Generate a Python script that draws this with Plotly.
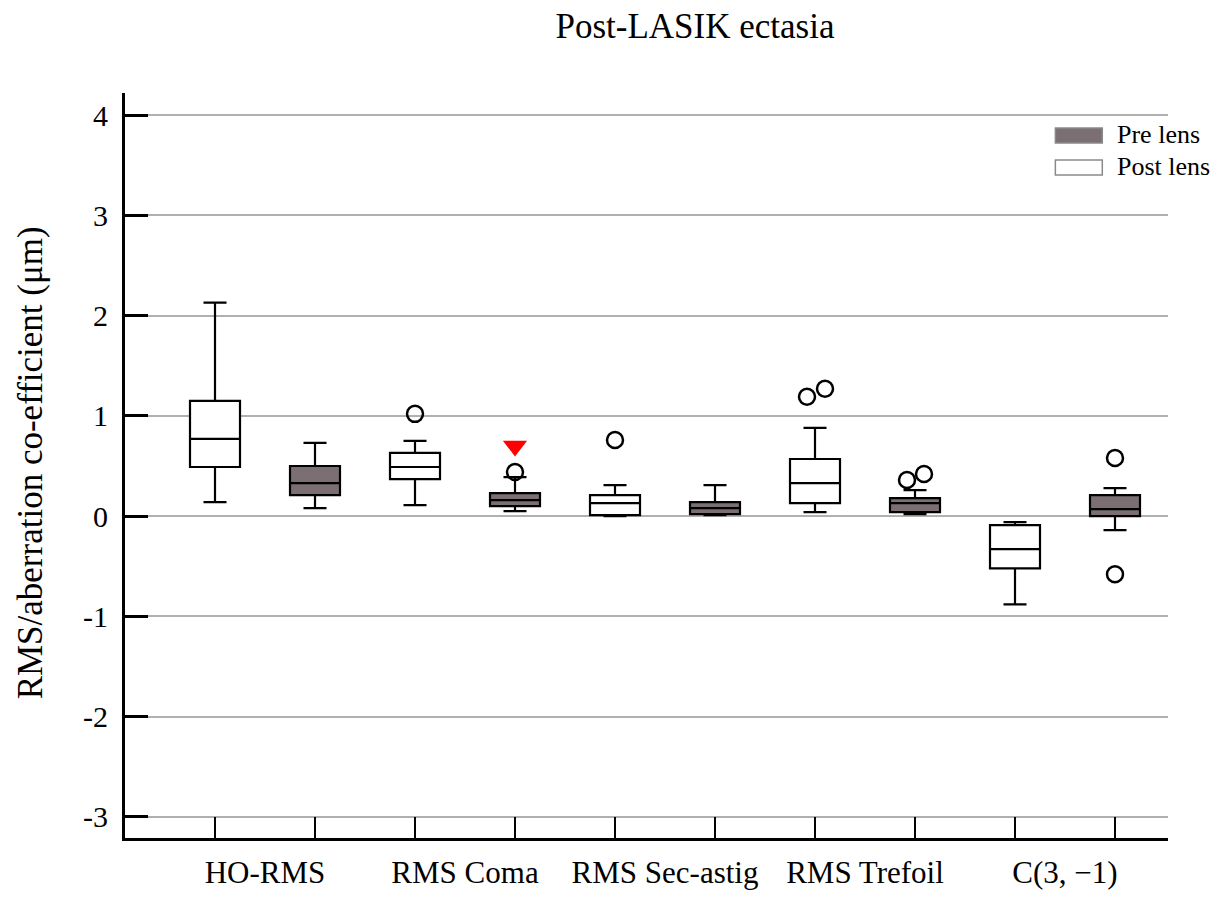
import plotly.graph_objects as go

categories = ["HO-RMS", "RMS Coma", "RMS Sec-astig", "RMS Trefoil", "C(3, \u22121)"]

# Post lens (white boxes)
post_low = [0.14, 0.11, 0.00, 0.04, -0.88]
post_q1 = [0.49, 0.37, 0.01, 0.13, -0.52]
post_med = [0.77, 0.49, 0.13, 0.33, -0.33]
post_q3 = [1.15, 0.63, 0.21, 0.57, -0.09]
post_high = [2.13, 0.75, 0.31, 0.88, -0.06]

# Pre lens (gray boxes)
pre_low = [0.08, 0.05, 0.01, 0.02, -0.14]
pre_q1 = [0.21, 0.10, 0.02, 0.04, 0.00]
pre_med = [0.33, 0.16, 0.08, 0.13, 0.07]
pre_q3 = [0.50, 0.23, 0.14, 0.18, 0.21]
pre_high = [0.73, 0.39, 0.31, 0.26, 0.28]

# outliers: (category index, value)
post_out_cat = [1, 2, 3, 3]
post_out_val = [1.02, 0.76, 1.19, 1.27]
pre_out_cat = [1, 3, 3, 4, 4]
pre_out_val = [0.44, 0.36, 0.42, 0.58, -0.58]
post_out_dx = [0.0, 0.0, -0.08, 0.10]
pre_out_dx = [0.0, -0.08, 0.09, 0.0, 0.0]

# significance marker (pre lens, RMS Coma)
mark_cat = [1]
mark_val = [0.70]

GRAY = "#7b6f74"
n = len(categories)
post_x = [2 * i + 1 for i in range(n)]
pre_x = [2 * i + 2 for i in range(n)]

fig = go.Figure()
fig.add_trace(go.Box(
    name="Post lens", x=post_x, q1=post_q1, median=post_med, q3=post_q3,
    lowerfence=post_low, upperfence=post_high, boxpoints=False,
    width=0.5, whiskerwidth=0.46, fillcolor="white",
    line=dict(color="black", width=2.2), showlegend=False, hoverinfo="skip"))
fig.add_trace(go.Box(
    name="Pre lens", x=pre_x, q1=pre_q1, median=pre_med, q3=pre_q3,
    lowerfence=pre_low, upperfence=pre_high, boxpoints=False,
    width=0.5, whiskerwidth=0.46, fillcolor=GRAY,
    line=dict(color="black", width=2.2), showlegend=False, hoverinfo="skip"))

circ = dict(symbol="circle-open", size=16, color="black", line=dict(width=2.5, color="black"))
fig.add_trace(go.Scatter(
    x=[post_x[c] + d for c, d in zip(post_out_cat, post_out_dx)], y=post_out_val,
    mode="markers", marker=circ, showlegend=False, hoverinfo="skip"))
fig.add_trace(go.Scatter(
    x=[pre_x[c] + d for c, d in zip(pre_out_cat, pre_out_dx)], y=pre_out_val,
    mode="markers", marker=circ, showlegend=False, hoverinfo="skip"))
fig.add_trace(go.Scatter(
    x=[pre_x[c] for c in mark_cat], y=mark_val, mode="markers",
    marker=dict(symbol="triangle-down", size=21, color="#ff0000"),
    showlegend=False, hoverinfo="skip"))

label_x = [(a + b) / 2 for a, b in zip(post_x, pre_x)]

fig.update_layout(
    width=1215, height=897,
    paper_bgcolor="white", plot_bgcolor="white",
    margin=dict(l=125, r=47, t=93, b=59, autoexpand=False),
    font=dict(family="Liberation Serif, Times New Roman, serif", color="black"),
    title=dict(text="Post-LASIK ectasia", x=0.572, xanchor="center", xref="container",
               y=0.971, yanchor="middle", yref="container",
               font=dict(size=35, color="black")),
    boxmode="overlay",
    xaxis=dict(range=[0.1, 10.53], tickvals=label_x, ticktext=categories,
               ticks="", showgrid=False, zeroline=False,
               showline=True, linecolor="black", linewidth=3,
               tickfont=dict(size=31), ticklabelstandoff=5, automargin=False,
               minor=dict(tickvals=post_x + pre_x, ticks="inside", ticklen=21,
                          tickwidth=2, tickcolor="black", showgrid=False)),
    yaxis=dict(range=[-3.21, 4.22], tickvals=[-3, -2, -1, 0, 1, 2, 3, 4],
               ticktext=["-3", "-2", "-1", "0", "1", "2", "3", "4"],
               ticks="inside", ticklen=23, tickwidth=3, tickcolor="black",
               showgrid=True, gridcolor="#b0b0b0", gridwidth=2,
               zeroline=False, showline=True, linecolor="black", linewidth=3,
               tickfont=dict(size=30), ticklabelstandoff=8, automargin=False),
)

fig.add_annotation(text="RMS/aberration co-efficient (\u03bcm)", textangle=-90,
                   xref="paper", yref="paper", x=-0.091, y=0.503,
                   xanchor="center", yanchor="middle", showarrow=False,
                   font=dict(size=35, color="black"))

# legend drawn manually
fig.add_shape(type="rect", xref="paper", yref="paper", x0=0.892, x1=0.937,
              y0=0.933, y1=0.953, fillcolor=GRAY, line=dict(color="#8a8a8a", width=1.5))
fig.add_shape(type="rect", xref="paper", yref="paper", x0=0.892, x1=0.937,
              y0=0.890, y1=0.910, fillcolor="white", line=dict(color="#8a8a8a", width=1.5))
fig.add_annotation(text="Pre lens", xref="paper", yref="paper", x=0.949, y=0.944,
                   xanchor="left", yanchor="middle", showarrow=False,
                   font=dict(size=26, color="black"))
fig.add_annotation(text="Post lens", xref="paper", yref="paper", x=0.949, y=0.901,
                   xanchor="left", yanchor="middle", showarrow=False,
                   font=dict(size=26, color="black"))

fig.write_html("out.html", config={"displayModeBar": False},
               post_script="document.body.style.margin='0px';")
